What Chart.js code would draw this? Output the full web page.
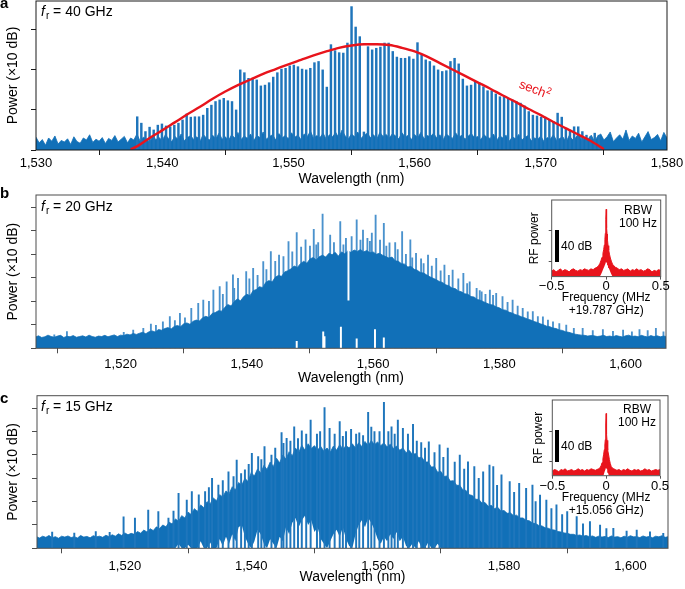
<!DOCTYPE html>
<html>
<head>
<meta charset="utf-8">
<title>Microcomb optical spectra</title>
<script src="https://cdn.jsdelivr.net/npm/chart.js@4.4.1/dist/chart.umd.min.js"></script>
<style>
  html, body { margin: 0; padding: 0; background: #fff; }
  #fig { position: relative; width: 685px; height: 589px; overflow: hidden;
         font-family: "Liberation Sans", Arial, Helvetica, sans-serif; color: #000; }
  #fig canvas { position: absolute; }
  .lbl { position: absolute; white-space: nowrap; line-height: 1; }
  .panel { font-size: 15px; font-weight: bold; }
  .fr { font-size: 14px; }
  .fr sub { font-size: 10px; vertical-align: baseline; position: relative; top: 3px; margin-left: 1px; }
  .sech { font-size: 13px; color: #e8141c; transform: translate(-50%, -50%) rotate(21deg); }
  .sech sup { font-size: 9px; vertical-align: baseline; position: relative; top: -5px; }
  .rbw { font-size: 12px; text-align: center; width: 52px; }
  .db { font-size: 12px; }
  .scalebar { position: absolute; width: 4px; height: 32px; background: #000; }
</style>
</head>
<body>
<div id="fig">
  <canvas id="chartA" width="685" height="190" style="left:0;top:0"></canvas>
  <canvas id="chartB" width="685" height="200" style="left:0;top:190px"></canvas>
  <canvas id="chartC" width="685" height="199" style="left:0;top:390px"></canvas>
  <canvas id="rfB" width="165" height="125" style="left:515px;top:195px"></canvas>
  <canvas id="rfC" width="165" height="125" style="left:515px;top:395px"></canvas>

  <div class="lbl panel" style="left:0;top:-5px">a</div>
  <div class="lbl panel" style="left:0;top:185px">b</div>
  <div class="lbl panel" style="left:0;top:390px">c</div>

  <div class="lbl fr" style="left:41px;top:4px"><i>f</i><sub>r</sub> = 40 GHz</div>
  <div class="lbl fr" style="left:41px;top:199px"><i>f</i><sub>r</sub> = 20 GHz</div>
  <div class="lbl fr" style="left:41px;top:399px"><i>f</i><sub>r</sub> = 15 GHz</div>

  <div class="lbl sech" style="left:535px;top:89px">sech<sup>2</sup></div>

  <div class="lbl rbw" style="left:612px;top:204px;line-height:12.6px">RBW<br>100 Hz</div>
  <div class="lbl rbw" style="left:611px;top:403px;line-height:13.3px">RBW<br>100 Hz</div>
  <div class="scalebar" style="left:555px;top:230px"></div>
  <div class="scalebar" style="left:555px;top:430px"></div>
  <div class="lbl db" style="left:561px;top:240px">40 dB</div>
  <div class="lbl db" style="left:561px;top:440px">40 dB</div>
</div>

<script>
// Optical spectra of the three microcombs plus RF beat-note insets

// --- panel a (40 GHz): comb line peaks, noise floor, sech^2 envelope ---
const aCombStart = 1538.02;   // first resolved line, nm
const aCombStep = 0.3266;     // line spacing, nm
const aCombPeaks = [
  0.83, 0.67, 0.46, 0.57, 0.5, 0.62, 0.65, 0.6, 0.58, 0.62,
  0.67, 0.75, 0.9, 0.82, 0.83, 0.83, 0.87, 1.04, 1.12, 1.21,
  1.25, 1.29, 1.23, 1.21, 1.0, 2.0, 1.93, 1.79, 1.79, 1.75,
  1.6, 1.62, 1.68, 1.82, 1.93, 2.02, 2.04, 2.1, 2.12, 2.08,
  2.02, 2.0, 2.04, 2.18, 2.21, 2.0, 1.57, 2.63, 2.48, 2.43,
  2.42, 2.67, 3.58, 3.07, 2.83, 0.45, 2.58, 2.5, 2.54, 2.57,
  2.67, 2.67, 2.46, 2.32, 2.29, 2.29, 2.33, 2.27, 2.68, 2.38,
  2.25, 2.21, 2.1, 2.0, 1.96, 1.98, 2.21, 2.29, 2.15, 1.77,
  1.6, 1.62, 1.71, 1.68, 1.58, 1.48, 1.48, 1.4, 1.33, 1.33,
  1.29, 1.25, 1.21, 1.17, 1.1, 0.96, 0.87, 0.85, 0.82, 0.82,
  0.75, 0.71, 0.92, 0.82, 0.54, 0.5, 0.58, 0.58, 0.46, 0.37,
  0.33, 0.42, 0.37
];
const aFloorStart = 1530;
const aFloorStep = 0.25;
const aFloor = [
  0.32, 0.18, 0.26, 0.12, 0.3, 0.22, 0.35, 0.15, 0.24, 0.2, 0.28, 0.14, 0.33, 0.21, 0.17, 0.3, 0.25, 0.38, 0.19, 0.27,
  0.22, 0.31, 0.16, 0.29, 0.24, 0.36, 0.2, 0.27, 0.34, 0.18, 0.3, 0.25, 0.4, 0.22, 0.32, 0.28, 0.19, 0.35, 0.26, 0.31,
  0.24, 0.38, 0.29, 0.21, 0.34, 0.27, 0.4, 0.23, 0.31, 0.36, 0.26, 0.33, 0.22, 0.39, 0.3, 0.25, 0.37, 0.28, 0.42, 0.27,
  0.33, 0.24, 0.38, 0.3, 0.44, 0.26, 0.35, 0.29, 0.4, 0.23, 0.36, 0.31, 0.45, 0.27, 0.34, 0.38, 0.25, 0.41, 0.3, 0.36,
  0.28, 0.43, 0.32, 0.37, 0.26, 0.4, 0.34, 0.47, 0.29, 0.36, 0.31, 0.42, 0.27, 0.38, 0.33, 0.44, 0.3, 0.5, 0.35, 0.28,
  0.4, 0.33, 0.45, 0.29, 0.37, 0.42, 0.31, 0.38, 0.27, 0.44, 0.34, 0.39, 0.3, 0.41, 0.35, 0.28, 0.43, 0.32, 0.37, 0.26,
  0.39, 0.31, 0.44, 0.28, 0.36, 0.33, 0.42, 0.3, 0.38, 0.25, 0.4, 0.34, 0.29, 0.43, 0.32, 0.37, 0.27, 0.35, 0.41, 0.3,
  0.34, 0.26, 0.38, 0.31, 0.29, 0.4, 0.24, 0.35, 0.3, 0.37, 0.22, 0.33, 0.28, 0.39, 0.25, 0.32, 0.36, 0.23, 0.3, 0.27,
  0.35, 0.21, 0.31, 0.27, 0.38, 0.24, 0.29, 0.33, 0.2, 0.36, 0.26, 0.3, 0.42, 0.23, 0.32, 0.28, 0.37, 0.22, 0.34, 0.4,
  0.25, 0.33, 0.45, 0.21, 0.3, 0.38, 0.27, 0.5, 0.24, 0.35, 0.29, 0.42, 0.2, 0.33, 0.46, 0.26, 0.31, 0.39, 0.23, 0.44,
  0.3
];
const sechWl = [1537.5, 1538, 1539, 1540, 1541, 1542, 1543, 1544, 1545, 1546, 1547, 1548, 1549,
  1550, 1551, 1552, 1553, 1554, 1555, 1556, 1557, 1558, 1559, 1560, 1561, 1562, 1563, 1564,
  1565, 1566, 1567, 1568, 1569, 1570, 1571, 1572, 1573, 1574, 1575];
const sechPow = [0.02, 0.09, 0.3, 0.49, 0.69, 0.89, 1.08, 1.28, 1.46, 1.62, 1.76, 1.9, 2.02,
  2.14, 2.25, 2.36, 2.46, 2.55, 2.61, 2.64, 2.64, 2.62, 2.55, 2.46, 2.33, 2.17, 2.01, 1.85,
  1.69, 1.53, 1.36, 1.2, 1.03, 0.87, 0.7, 0.54, 0.38, 0.22, 0.02];
const aXTicks = [1530, 1540, 1550, 1560, 1570, 1580];
const aXLabels = ['1,530', '1,540', '1,550', '1,560', '1,570', '1,580'];
const aYTicks = [0, 1, 2, 3];

// --- panel b (20 GHz): dense body, taller lines, white gaps ---
const bBodyStart = 1506.5;
const bBodyStep = 0.5;
const bBody = [
  0.48, 0.53, 0.46, 0.49, 0.56, 0.5, 0.47, 0.52, 0.55, 0.46,
  0.51, 0.49, 0.54, 0.47, 0.5, 0.53, 0.48, 0.56, 0.5, 0.47,
  0.52, 0.5, 0.55, 0.49, 0.53, 0.57, 0.5, 0.56, 0.54, 0.6,
  0.57, 0.63, 0.59, 0.64, 0.68, 0.62, 0.7, 0.74, 0.69, 0.8,
  0.77, 0.84, 0.88, 0.82, 0.93, 0.97, 0.92, 1.04, 1.08, 1.02,
  1.15, 1.2, 1.16, 1.3, 1.36, 1.31, 1.48, 1.52, 1.6, 1.58,
  1.74, 1.86, 1.8, 1.98, 2.1, 2.02, 2.2, 2.3, 2.24, 2.45,
  2.5, 2.62, 2.58, 2.8, 2.88, 2.82, 3.02, 3.1, 3.06, 3.25,
  3.3, 3.38, 3.5, 3.44, 3.6, 3.7, 3.62, 3.8, 3.86, 3.76,
  3.9, 3.96, 3.88, 4.04, 3.98, 4.08, 3.92, 4.1, 4.02, 4.14,
  4.08, 4.18, 4.12, 4.2, 4.1, 4.16, 4.06, 4.1, 4.0, 4.04,
  3.96, 3.9, 3.84, 3.88, 3.72, 3.7, 3.6, 3.58, 3.46, 3.48,
  3.36, 3.32, 3.22, 3.2, 3.12, 3.04, 2.98, 2.92, 2.84, 2.8,
  2.7, 2.66, 2.56, 2.54, 2.44, 2.4, 2.32, 2.3, 2.2, 2.18,
  2.08, 2.04, 1.98, 1.92, 1.86, 1.84, 1.76, 1.72, 1.64, 1.62,
  1.54, 1.5, 1.44, 1.4, 1.34, 1.3, 1.24, 1.2, 1.14, 1.1,
  1.04, 1.0, 0.94, 0.92, 0.86, 0.84, 0.78, 0.76, 0.7, 0.68,
  0.64, 0.6, 0.58, 0.56, 0.55, 0.52, 0.54, 0.53, 0.5, 0.52,
  0.55, 0.5, 0.52, 0.49, 0.54, 0.51, 0.48, 0.53, 0.56, 0.5,
  0.52, 0.49, 0.55, 0.51, 0.48, 0.54, 0.5, 0.53, 0.49, 0.52,
  0.5
];
const bSpikeWl = [1509.5, 1511.5, 1520.5, 1522.0, 1523.6, 1524.8, 1525.6, 1526.7, 1527.8, 1528.6,
  1529.4, 1530.2, 1531.2, 1532.3, 1533.1, 1534.0, 1534.7, 1535.7, 1536.2, 1536.8,
  1537.8, 1538.0, 1538.6, 1539.9, 1540.4, 1541.0, 1541.7, 1542.6, 1543.1, 1543.8,
  1544.5, 1545.1, 1545.8, 1546.6, 1547.2, 1547.9, 1548.6, 1549.3, 1550.0, 1550.6,
  1551.0, 1551.3, 1552.0, 1553.2, 1553.8, 1554.8, 1555.3, 1555.7, 1556.6, 1557.4,
  1558.0, 1558.4, 1559.1, 1559.5, 1559.8, 1560.4, 1561.1, 1561.7, 1562.1, 1562.6,
  1563.5, 1563.9, 1564.6, 1565.2, 1565.9, 1566.2, 1566.8, 1567.6, 1568.0, 1568.7,
  1569.3, 1570.0, 1570.7, 1571.3, 1572.0, 1572.6, 1573.5, 1574.3, 1574.9, 1575.3,
  1576.4, 1576.9, 1577.2, 1577.8, 1578.5, 1579.0, 1579.5, 1580.5, 1581.3, 1582.1,
  1582.9, 1583.7, 1584.5, 1585.3, 1586.1, 1586.9, 1587.7, 1588.5, 1589.5, 1590.6,
  1591.8, 1593.2, 1594.8, 1596.4, 1598.0, 1599.6, 1601.0, 1602.2, 1603.5, 1604.8,
  1606.0];
const bSpikePow = [0.57, 0.71, 0.68, 0.78, 0.85, 1.03, 0.98, 1.13, 1.35, 1.18,
  1.49, 1.3, 1.7, 1.91, 2.05, 2.0, 2.48, 2.62, 2.3, 2.83,
  3.12, 2.55, 2.98, 3.26, 2.95, 3.4, 3.1, 3.69, 3.35, 4.11,
  3.7, 3.97, 3.9, 4.54, 4.1, 4.92, 4.3, 4.61, 4.35, 5.06,
  4.4, 4.5, 5.71, 4.82, 4.5, 5.39, 4.4, 4.68, 4.75, 5.46,
  4.6, 5.03, 4.68, 4.55, 4.9, 5.67, 4.6, 5.32, 4.35, 4.49,
  4.5, 4.2, 4.96, 4.0, 4.61, 3.85, 4.04, 3.8, 3.6, 3.97,
  3.5, 3.83, 3.3, 3.54, 3.1, 3.33, 2.95, 3.19, 2.75, 2.83,
  2.55, 2.45, 2.4, 2.3, 2.48, 2.25, 2.34, 2.2, 1.95, 2.05,
  1.8, 1.7, 1.55, 1.56, 1.35, 1.34, 1.2, 1.13, 1.05, 0.99,
  0.85, 0.85, 0.75, 0.8, 0.72, 0.78, 0.7, 0.8, 0.75, 0.85,
  0.7];
const bGapWl = [1556.1, 1547.9, 1552.1, 1552.3, 1554.9, 1557.4, 1560.3, 1561.7];
const bGapLo = [2.05, 0, 0, 0, 0, 0, 0, 0];
const bGapHi = [4.3, 0.3, 0.7, 0.5, 0.9, 0.4, 0.8, 0.45];

// --- panel c (15 GHz): body, white holes near the base, tall lines ---
const cBodyStart = 1506;
const cBodyStep = 0.5;
const cBody = [
  0.5, 0.44, 0.52, 0.47, 0.55, 0.45, 0.5, 0.43, 0.52, 0.48,
  0.53, 0.46, 0.5, 0.44, 0.55, 0.48, 0.51, 0.45, 0.54, 0.49,
  0.52, 0.47, 0.56, 0.5, 0.58, 0.52, 0.62, 0.55, 0.66, 0.58,
  0.64, 0.6, 0.72, 0.65, 0.78, 0.7, 0.84, 0.76, 0.92, 0.85,
  1.0, 0.92, 1.12, 1.04, 1.26, 1.16, 1.4, 1.3, 1.55, 1.45,
  1.7, 1.58, 1.86, 1.74, 2.0, 1.9, 2.16, 2.04, 2.3, 2.2,
  2.46, 2.34, 2.64, 2.5, 2.82, 2.7, 3.0, 2.86, 3.24, 3.1,
  3.4, 3.22, 3.55, 3.38, 3.7, 3.5, 3.86, 3.66, 4.0, 3.82,
  4.14, 3.96, 4.3, 4.1, 4.42, 4.2, 4.48, 4.28, 4.4, 4.22,
  4.36, 4.16, 4.3, 4.12, 4.38, 4.2, 4.44, 4.26, 4.4, 4.3,
  4.48, 4.3, 4.52, 4.36, 4.58, 4.4, 4.62, 4.44, 4.56, 4.4,
  4.52, 4.34, 4.46, 4.28, 4.38, 4.2, 4.3, 4.1, 4.2, 4.02,
  4.06, 3.88, 3.9, 3.7, 3.7, 3.48, 3.5, 3.26, 3.3, 3.08,
  3.1, 2.88, 2.9, 2.7, 2.7, 2.5, 2.48, 2.3, 2.26, 2.1,
  2.1, 1.94, 1.96, 1.8, 1.84, 1.7, 1.76, 1.6, 1.62, 1.5,
  1.52, 1.4, 1.42, 1.3, 1.3, 1.2, 1.18, 1.08, 1.06, 0.98,
  0.96, 0.88, 0.86, 0.8, 0.78, 0.72, 0.7, 0.66, 0.64, 0.6,
  0.6, 0.55, 0.57, 0.52, 0.55, 0.5, 0.53, 0.47, 0.52, 0.48,
  0.51, 0.46, 0.53, 0.48, 0.5, 0.45, 0.52, 0.47, 0.54, 0.49,
  0.5, 0.46, 0.53, 0.48, 0.51, 0.45, 0.52, 0.49, 0.54, 0.47,
  0.5
];
const cHoleStart = 1526;
const cHoles = [
  0, 0, 0, 0, 0, 0.2, 0, 0, 0.15, 0,
  0, 0, 0.3, 0, 0, 0.25, 0, 0, 0.4, 0.1,
  0.5, 0.2, 0.6, 0.3, 0.9, 1.0, 0.5, 0.2, 0, 0.3,
  0.8, 0.6, 0.2, 0, 0.4, 0.2, 0, 0.5, 0.3, 0.9,
  0.6, 1.1, 1.3, 0.9, 1.2, 1.4, 1.0, 1.2, 0.7, 0.9,
  0.4, 0.2, 0, 0.3, 0.6, 0.8, 0.5, 0.9, 0.4, 0.1,
  0, 0.6, 1.0, 1.2, 0.9, 1.3, 1.1, 0.8, 0.4, 0.2,
  0.5, 0.3, 0.6, 0.4, 0.7, 0.3, 0.5, 0.1, 0, 0.2,
  0, 0.3, 0, 0, 0.25, 0, 0, 0.2, 0, 0
];
const cSpikeWl = [1508.5, 1512.0, 1515.4, 1517.6, 1519.8, 1521.6, 1523.7, 1525.3, 1526.9, 1527.7,
  1528.5, 1529.8, 1530.6, 1531.7, 1532.7, 1533.3, 1533.8, 1534.8, 1535.5, 1536.4,
  1537.2, 1537.7, 1538.4, 1539.0, 1539.6, 1540.1, 1541.1, 1541.6, 1542.1, 1543.2,
  1543.8, 1544.8, 1545.1, 1545.6, 1546.2, 1546.8, 1547.4, 1548.0, 1548.7, 1549.4,
  1550.4, 1550.9, 1551.6, 1552.4, 1553.2, 1554.0, 1554.5, 1555.0, 1555.8, 1556.6,
  1557.1, 1557.7, 1558.5, 1559.0, 1559.5, 1560.3, 1561.0, 1561.7, 1562.2, 1562.7,
  1563.2, 1564.0, 1564.8, 1565.6, 1566.2, 1566.9, 1567.5, 1568.1, 1569.0, 1569.8,
  1570.4, 1571.1, 1572.2, 1573.0, 1573.7, 1574.3, 1575.3, 1576.0, 1576.7, 1577.7,
  1578.3, 1578.9, 1579.6, 1580.9, 1581.6, 1582.4, 1583.5, 1584.5, 1585.0, 1585.7,
  1586.7, 1587.5, 1588.3, 1589.2, 1590.0, 1591.5, 1592.5, 1593.6, 1595.2, 1596.2,
  1597.3, 1599.4, 1601.0, 1603.1, 1605.2];
const cSpikePow = [0.7, 0.65, 0.72, 0.68, 1.35, 1.29, 1.64, 1.57, 1.29, 1.6,
  2.36, 2.07, 2.43, 2.29, 2.43, 2.6, 3.0, 2.71, 2.9, 3.28,
  3.07, 3.78, 3.2, 3.36, 3.6, 4.07, 3.93, 3.8, 4.36, 4.0,
  4.3, 4.96, 4.5, 4.71, 4.6, 5.21, 4.7, 5.03, 4.9, 5.5,
  4.89, 5.0, 6.03, 5.14, 4.9, 5.43, 4.8, 5.0, 5.1, 4.89,
  4.95, 4.83, 5.83, 5.2, 5.0, 5.0, 6.26, 5.0, 5.21, 4.9,
  5.5, 5.14, 4.9, 5.31, 4.6, 4.53, 4.3, 4.56, 4.1, 4.43,
  3.9, 4.29, 3.7, 4.0, 3.4, 3.71, 3.5, 3.0, 3.28, 3.57,
  3.5, 2.7, 3.15, 2.86, 2.4, 2.78, 2.57, 2.71, 2.0, 2.28,
  2.07, 1.7, 1.86, 1.45, 1.57, 1.36, 1.05, 1.14, 1.0, 0.85,
  0.86, 0.74, 0.78, 0.71, 0.64];
const bcXTicks = [1520, 1540, 1560, 1580, 1600];
const bcXLabels = ['1,520', '1,540', '1,560', '1,580', '1,600'];
const bcYTicks = [0, 1, 2, 3, 4, 5, 6];

// --- RF beat-note insets (dB, offset frequency in MHz) ---
const rfFreq = [-0.5, -0.48, -0.46, -0.44, -0.42, -0.4, -0.38, -0.36, -0.34, -0.32, -0.3,
  -0.28, -0.26, -0.24, -0.22, -0.2, -0.18, -0.16, -0.14, -0.12, -0.1,
  -0.085, -0.07, -0.058, -0.047, -0.038, -0.03, -0.023, -0.017, -0.012, -0.008, -0.005, -0.0025,
  0, 0.0025, 0.005, 0.008, 0.012, 0.017, 0.023, 0.03, 0.038, 0.047, 0.058, 0.07, 0.085,
  0.1, 0.12, 0.14, 0.16, 0.18, 0.2, 0.22, 0.24, 0.26, 0.28, 0.3,
  0.32, 0.34, 0.36, 0.38, 0.4, 0.42, 0.44, 0.46, 0.48, 0.5];
const rfBTop = [7, 9, 6, 8, 10, 7, 9, 8, 6, 9, 10, 8, 7, 9, 8, 10, 9, 8, 10, 9, 11,
  12, 14, 17, 21, 25, 30, 35, 41, 48, 56, 64, 74,
  87, 74, 63, 55, 47, 40, 34, 29, 24, 20, 16, 14, 12,
  11, 9, 10, 8, 9, 10, 7, 9, 8, 10, 8, 9, 7, 8, 10, 9, 6, 8, 7, 9, 8];
const rfBLow = [0, 0, 0, 0, 0, 0, 0, 0, 0, 0, 0, 0, 0, 0, 0, 0, 0, 0, 0, 0, 0,
  0, 0, 0, 3, 6, 9, 11, 13, 15, 17, 18, 19,
  19, 19, 18, 17, 15, 13, 11, 9, 6, 3, 0, 0, 0,
  0, 0, 0, 0, 0, 0, 0, 0, 0, 0, 0, 0, 0, 0, 0, 0, 0, 0, 0, 0, 0];
const rfCTop = [6, 8, 7, 5, 8, 7, 9, 6, 7, 8, 6, 7, 9, 7, 8, 6, 8, 7, 9, 8, 7,
  8, 9, 10, 13, 17, 22, 28, 34, 40, 47, 55, 66,
  81, 65, 54, 46, 39, 33, 27, 21, 16, 12, 10, 9, 8,
  7, 8, 6, 8, 7, 9, 7, 6, 8, 7, 8, 6, 7, 9, 7, 8, 6, 7, 8, 7, 8];
const rfCLow = [0, 0, 0, 0, 0, 0, 0, 0, 0, 0, 0, 0, 0, 0, 0, 0, 0, 0, 0, 0, 0,
  0, 0, 0, 0, 0, 0, 1, 4, 6, 8, 9, 10,
  10, 10, 9, 8, 6, 4, 1, 0, 0, 0, 0, 0, 0,
  0, 0, 0, 0, 0, 0, 0, 0, 0, 0, 0, 0, 0, 0, 0, 0, 0, 0, 0, 0, 0];
const rfXTicks = [-0.5, 0, 0.5];
const rfXLabels = ['\u22120.5', '0', '0.5'];
const rfBYTicks = [20, 60];
const rfCYTicks = [18, 58];

// ---------------------------------------------------------------
Chart.defaults.font.family = '"Liberation Sans", Arial, Helvetica, sans-serif';
Chart.defaults.color = '#000';

const BLUE = '#1170b8';
const COMB = '#1f75bb';
const SPIKE_B = '#4a92cd';
const SPIKE_C = '#1f76bc';
const RED = '#e8141c';
const NONE = 'rgba(0,0,0,0)';

const pts = (start, step, vals) => vals.map((v, i) => ({ x: start + i * step, y: v }));
const pairs = (xs, ys) => xs.map((x, i) => ({ x: x, y: ys[i] }));

// box around the plot area
const framePlugin = (color) => ({
  id: 'frame',
  afterDraw(chart) {
    const { ctx, chartArea: a } = chart;
    ctx.save();
    ctx.strokeStyle = color;
    ctx.lineWidth = 1;
    ctx.strokeRect(a.left, a.top, a.width, a.height);
    ctx.restore();
  }
});

// white plot background for the insets
const whiteArea = {
  id: 'whiteArea',
  beforeDraw(chart) {
    const { ctx, chartArea: a } = chart;
    ctx.save();
    ctx.fillStyle = '#fff';
    ctx.fillRect(a.left, a.top, a.width, a.height);
    ctx.restore();
  }
};

function spectrumChart(id, o) {
  return new Chart(document.getElementById(id), {
    type: 'line',
    data: { datasets: o.datasets },
    options: {
      responsive: false,
      animation: false,
      events: [],
      layout: { padding: o.pad },
      plugins: { legend: { display: false }, tooltip: { enabled: false } },
      scales: {
        x: {
          type: 'linear', min: o.xMin, max: o.xMax, offset: false,
          afterBuildTicks: s => { s.ticks = o.xTicks.map(v => ({ value: v })); },
          afterFit: s => { s.height = o.xH; },
          ticks: { autoSkip: false, maxRotation: 0, padding: o.tickPad, font: { size: 13 },
                   callback: (v, i) => o.xLabels[i] },
          grid: { drawOnChartArea: false, drawTicks: true, tickLength: 5, color: o.axis },
          border: { display: false },
          title: { display: true, text: 'Wavelength (nm)', font: { size: 14 }, padding: 0 }
        },
        y: {
          type: 'linear', min: 0, max: o.yMax,
          afterBuildTicks: s => { s.ticks = o.yTicks.map(v => ({ value: v })); },
          afterFit: s => { s.width = o.yW; },
          ticks: { display: false },
          grid: { drawOnChartArea: false, drawTicks: true, tickLength: 5, color: o.axis },
          border: { display: false },
          title: { display: true, text: 'Power (\u00d710 dB)', font: { size: 14 }, padding: { top: 5, bottom: 0 } }
        }
      }
    },
    plugins: [framePlugin(o.axis)]
  });
}

// Panel a
spectrumChart('chartA', {
  pad: { left: 0, right: 18, top: 1, bottom: 2.1 },
  xMin: 1530, xMax: 1580, xTicks: aXTicks, xLabels: aXLabels, xH: 37.9, tickPad: 1,
  yMax: 3.72, yTicks: aYTicks, yW: 36, axis: '#1a1a1a',
  datasets: [
    { type: 'line', data: pairs(sechWl, sechPow), borderColor: RED, borderWidth: 2.4,
      pointRadius: 0, cubicInterpolationMode: 'monotone', fill: false, order: 0 },
    { type: 'bar', data: pts(aCombStart, aCombStep, aCombPeaks), backgroundColor: COMB,
      barThickness: 1.8, grouped: false, order: 1 },
    { type: 'line', data: pts(aFloorStart, aFloorStep, aFloor), borderColor: BLUE, borderWidth: 0.8,
      backgroundColor: BLUE, fill: 'origin', pointRadius: 0, tension: 0, order: 2 }
  ]
});

// Panel b (lines sit behind the body so only their tips show)
spectrumChart('chartB', {
  pad: { left: 0, right: 19, top: 5, bottom: 3.9 },
  xMin: 1506.6, xMax: 1606.4, xTicks: bcXTicks, xLabels: bcXLabels, xH: 37.8, tickPad: 3,
  yMax: 6.52, yTicks: bcYTicks, yW: 36, axis: '#4d4d4d',
  datasets: [
    { type: 'bar', data: bGapWl.map((x, i) => ({ x: x, y: [bGapLo[i], bGapHi[i]] })),
      backgroundColor: '#fff', barThickness: 1.3, grouped: false, order: 0 },
    { type: 'line', data: pts(bBodyStart, bBodyStep, bBody), borderColor: BLUE, borderWidth: 0.8,
      backgroundColor: BLUE, fill: 'origin', pointRadius: 0, tension: 0, order: 2 },
    { type: 'bar', data: pairs(bSpikeWl, bSpikePow), backgroundColor: SPIKE_B,
      barThickness: 1.2, grouped: false, order: 3 }
  ]
});

// Panel c
spectrumChart('chartC', {
  pad: { left: 0, right: 17, top: 5.7, bottom: 3.3 },
  xMin: 1506.1, xMax: 1605.95, xTicks: bcXTicks, xLabels: bcXLabels, xH: 37.4, tickPad: 5,
  yMax: 6.54, yTicks: bcYTicks, yW: 37, axis: '#4d4d4d',
  datasets: [
    { type: 'bar', data: pairs(cSpikeWl, cSpikePow), backgroundColor: SPIKE_C,
      barThickness: 1.3, grouped: false, order: 1 },
    { type: 'line', data: pts(cHoleStart, cBodyStep, cHoles), borderColor: NONE, borderWidth: 0,
      backgroundColor: '#fff', fill: 'origin', pointRadius: 0, tension: 0, order: 2 },
    { type: 'line', data: pts(cBodyStart, cBodyStep, cBody), borderColor: BLUE, borderWidth: 0.8,
      backgroundColor: BLUE, fill: 'origin', pointRadius: 0, tension: 0, order: 3 }
  ]
});

function rfInset(id, o) {
  return new Chart(document.getElementById(id), {
    type: 'line',
    data: {
      datasets: [
        { data: pairs(rfFreq, o.low), borderColor: NONE, borderWidth: 0, pointRadius: 0, fill: false },
        { data: pairs(rfFreq, o.top), borderColor: RED, borderWidth: 1, backgroundColor: RED,
          pointRadius: 0, tension: 0, fill: '-1' }
      ]
    },
    options: {
      responsive: false,
      animation: false,
      events: [],
      layout: { padding: o.pad },
      plugins: { legend: { display: false }, tooltip: { enabled: false } },
      scales: {
        x: {
          type: 'linear', min: -0.5, max: 0.5, offset: false,
          afterBuildTicks: s => { s.ticks = rfXTicks.map(v => ({ value: v })); },
          afterFit: s => { s.height = o.xH; },
          ticks: { autoSkip: false, maxRotation: 0, padding: o.tickPad,
                   font: { size: 13, lineHeight: 1 }, callback: (v, i) => rfXLabels[i] },
          grid: { drawOnChartArea: false, drawTicks: true, tickLength: 3, color: '#555' },
          border: { display: false },
          title: { display: true, text: o.xTitle, font: { size: 12, lineHeight: 1.12 }, padding: 0 }
        },
        y: {
          type: 'linear', min: 0, max: o.yMax,
          afterBuildTicks: s => { s.ticks = o.yTicks.map(v => ({ value: v })); },
          afterFit: s => { s.width = o.yW; },
          ticks: { display: false },
          grid: { drawOnChartArea: false, drawTicks: true, tickLength: 3, color: '#555' },
          border: { display: false },
          title: { display: true, text: 'RF power', font: { size: 12 }, padding: { top: o.yTitlePad, bottom: 0 } }
        }
      }
    },
    plugins: [whiteArea, framePlugin('#555')]
  });
}

rfInset('rfB', {
  top: rfBTop, low: rfBLow, yMax: 99, yTicks: rfBYTicks,
  pad: { left: 0, right: 19.3, top: 5, bottom: 2.6 },
  yW: 36.7, xH: 40.8, tickPad: 0.5, yTitlePad: 12.8,
  xTitle: ['Frequency (MHz', '+19.787 GHz)']
});

rfInset('rfC', {
  top: rfCTop, low: rfCLow, yMax: 98.6, yTicks: rfCYTicks,
  pad: { left: 0, right: 20, top: 5, bottom: 2.2 },
  yW: 37.3, xH: 42.1, tickPad: 1.5, yTitlePad: 16,
  xTitle: ['Frequency (MHz', '+15.056 GHz)']
});
</script>
</body>
</html>
